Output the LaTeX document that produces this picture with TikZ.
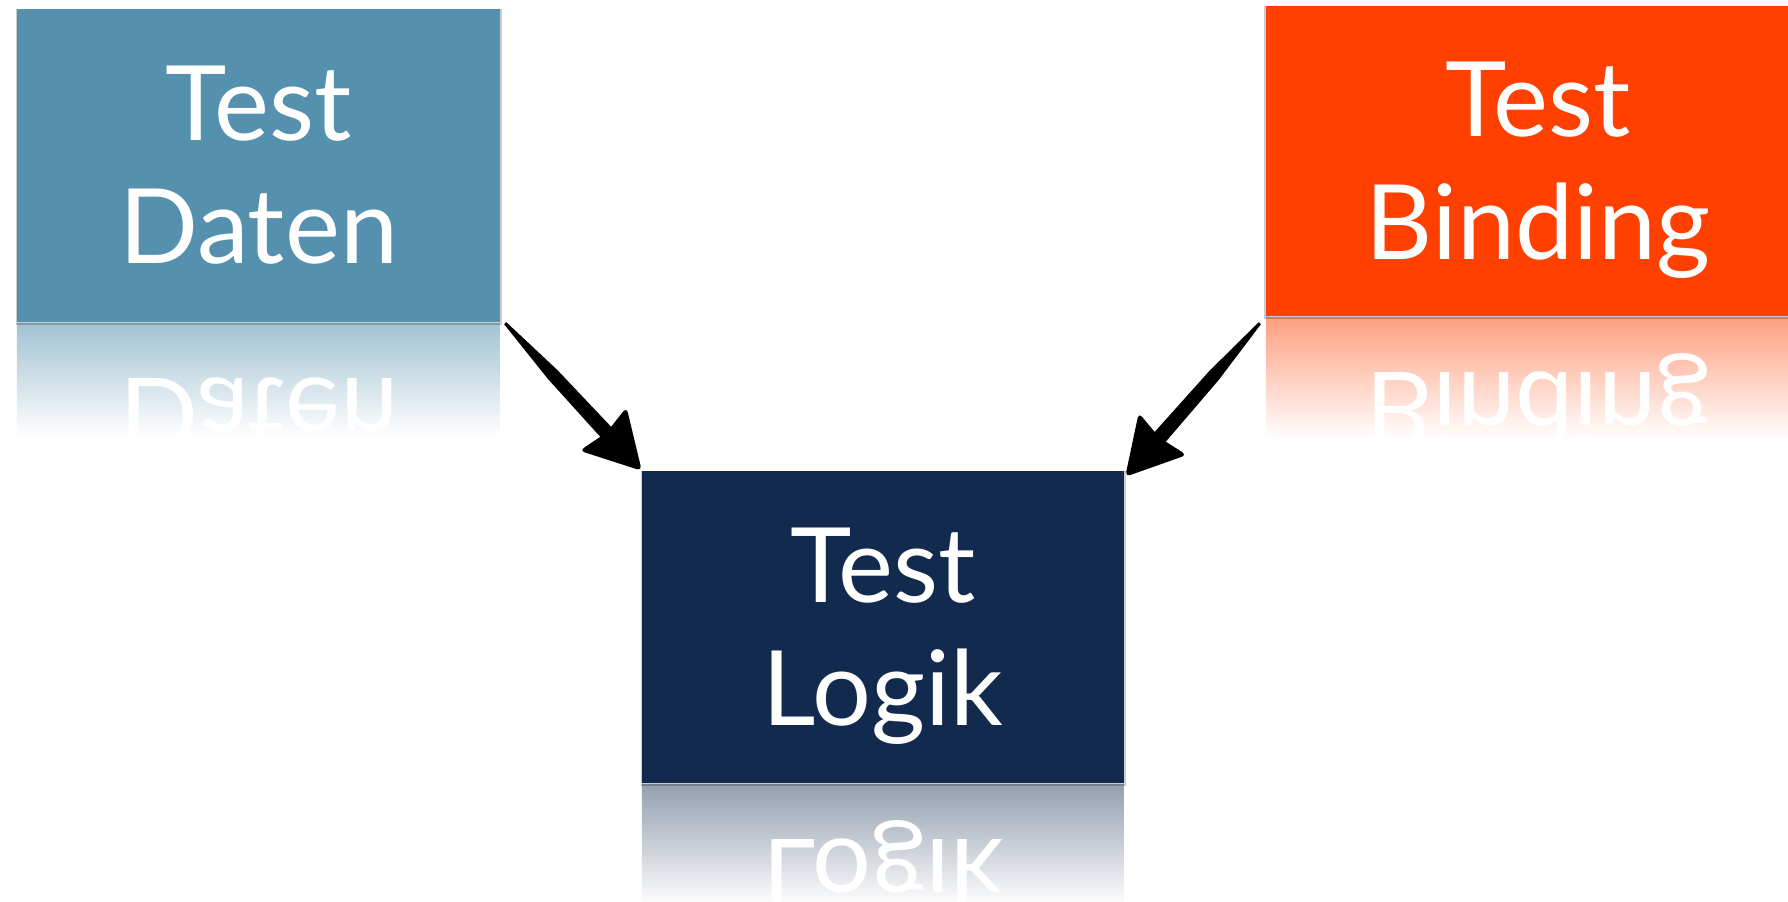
\documentclass[tikz,border=0pt]{standalone}
\usepackage{fontspec}
\setmainfont{Lato}
\usepackage{graphicx}
\usetikzlibrary{calc}
\definecolor{datenc}{RGB}{85,145,175}
\definecolor{bindc}{RGB}{255,64,0}
\definecolor{logikc}{RGB}{17,42,78}
\pgfdeclarelayer{bg}
\pgfsetlayers{bg,main}
\tikzset{
  boxtext/.style={text=white, align=center, inner sep=0pt, font=\fontsize{104}{123}\selectfont},
  mirrortext/.style={text=white, inner sep=0pt, anchor=base, font=\fontsize{104}{123}\selectfont},
  arrowink/.style={fill=black},
  boxshadow/.style={fill=black, opacity=0.2},
}
\newcommand\brusharrow[3]{%
  \coordinate (#1h) at ($(#3)!44pt!(#2)$);
  \coordinate (#1m) at ($(#2)!70pt!(#3)$);
  \coordinate (#1b) at ($(#3)!57pt!(#2)$);
  \coordinate (#1c) at ($(#3)!52pt!(#2)$);
  \fill[arrowink] ($(#2)!1.5pt!90:(#3)$) -- ($(#1m)!6.5pt!90:(#3)$) -- ($(#1h)!7.5pt!90:(#3)$) -- ($(#1h)!7.5pt!-90:(#3)$) -- ($(#1m)!6.5pt!-90:(#3)$) -- ($(#2)!1.5pt!-90:(#3)$) -- cycle;
  \fill[arrowink, rounded corners=5pt] (#3) -- ($(#1b)!32pt!90:(#3)$) -- (#1c) -- ($(#1b)!32pt!-90:(#3)$) -- cycle;
}
\begin{document}
\begin{tikzpicture}[x=1pt,y=-1pt]
\useasboundingbox (0,0) rectangle (1788,902);
\clip (0,0) rectangle (1788,902);

% boxes (text nodes)
\node[boxtext, minimum width=483, minimum height=313] (daten) at (258.5,165.5) {Test\\Daten};
\node[boxtext, minimum width=544, minimum height=310] (binding) at (1538,161) {Test\\Bindin\smash{g}};
\node[boxtext, minimum width=482, minimum height=312] (logik) at (883,627) {Test\\Lo\smash{g}ik};

\begin{pgfonlayer}{bg}
  \fill[white] (0,0) rectangle (1788,902);
  % reflections
  \shade[top color=datenc!55!white, bottom color=white] ([shift={(0,1)}]daten.south west) rectangle ++(483,114);
  \shade[top color=bindc!50!white, bottom color=white] ([shift={(0,1)}]binding.south west) rectangle ++(544,122);
  \shade[top color=logikc!45!white, bottom color=white] ([shift={(0,1)}]logik.south west) rectangle ++(482,122);
  % box shadows
  \fill[boxshadow] ([shift={(-1,0)}]daten.north west) rectangle ([shift={(1.5,2.5)}]daten.south east);
  \fill[boxshadow] ([shift={(-1.5,0)}]binding.north west) rectangle ([shift={(1.5,2.5)}]binding.south east);
  \fill[boxshadow] ([shift={(-1,0)}]logik.north west) rectangle ([shift={(1.5,2.5)}]logik.south east);
  % box fills
  \fill[datenc] (daten.north west) rectangle (daten.south east);
  \fill[bindc] (binding.north west) rectangle (binding.south east);
  \fill[logikc] (logik.north west) rectangle (logik.south east);
\end{pgfonlayer}

% mirrored texts
\node[mirrortext] (datenm) at ($(daten.south)+(0,56)$) {\scalebox{1}[-1]{Daten}};
\node[mirrortext] (bindingm) at ($(binding.south)+(0,56)$) {\scalebox{1}[-1]{Binding}};
\node[mirrortext] (logikm) at ($(logik.south)+(0,56)$) {\scalebox{1}[-1]{Logik}};

% arrows
\coordinate (a1s) at ([shift={(5,1)}]daten.south east);
\coordinate (a1t) at (logik.north west);
\brusharrow{A}{a1s}{a1t}
\coordinate (a2s) at ([shift={(-6,7)}]binding.south west);
\coordinate (a2t) at ([shift={(1,6)}]logik.north east);
\brusharrow{B}{a2s}{a2t}
\end{tikzpicture}
\end{document}
